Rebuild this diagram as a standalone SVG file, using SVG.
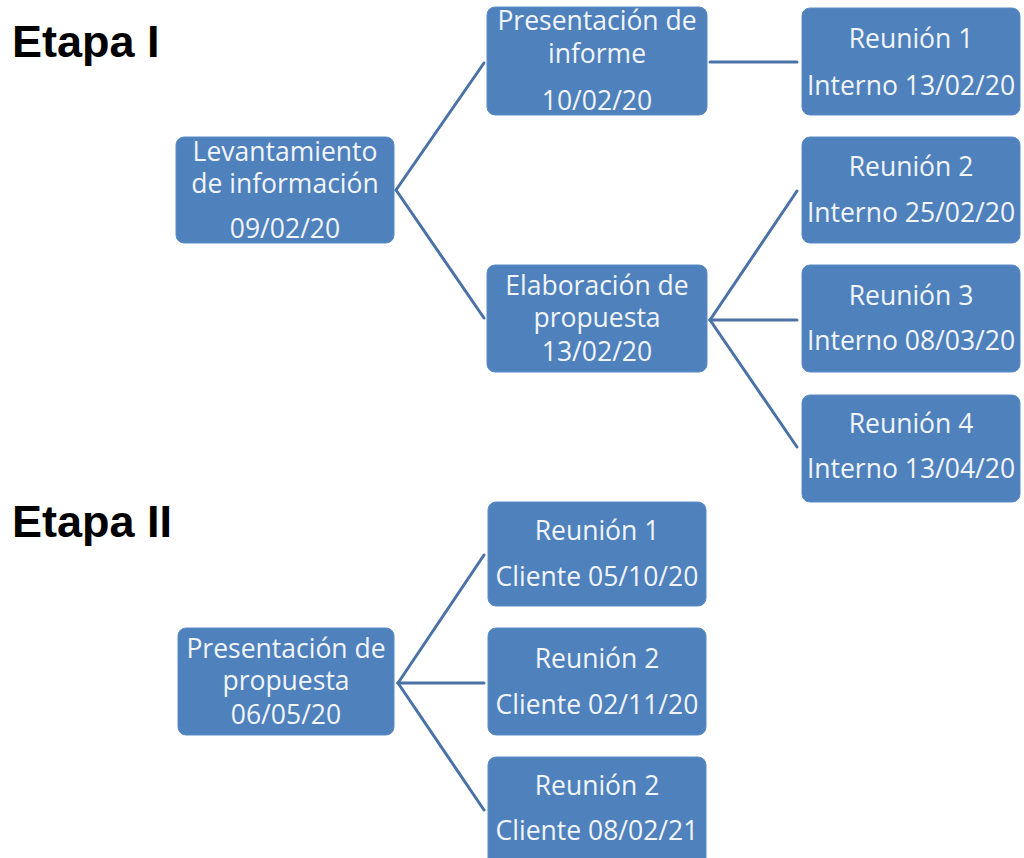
<svg xmlns="http://www.w3.org/2000/svg" width="1024" height="858" viewBox="0 0 1024 858">
<style>
.box{fill:#4F81BD;stroke:#5B8CC6;stroke-width:1}
.t{font-family:"Open Sans","Liberation Sans",Arial,sans-serif;font-size:26.5px;fill:#F2F5FA;text-anchor:middle}
.h{font-family:"Liberation Sans",Arial,sans-serif;font-size:45px;font-weight:bold;fill:#000}
.c line{stroke:#4A72A6;stroke-width:3;stroke-linecap:round}
</style>
<rect width="1024" height="858" fill="#fff"/>
<text class="h" x="12" y="57">Etapa I</text>
<text class="h" x="12" y="537">Etapa II</text>
<g class="c" id="connectors">
<line x1="396" y1="190" x2="484" y2="63"/>
<line x1="396" y1="190" x2="484" y2="318"/>
<line x1="710" y1="62" x2="797" y2="62"/>
<line x1="710" y1="320" x2="797" y2="191"/>
<line x1="710" y1="320" x2="797" y2="320"/>
<line x1="710" y1="320" x2="797" y2="447"/>
<line x1="398" y1="683" x2="484" y2="555"/>
<line x1="398" y1="683" x2="484" y2="683"/>
<line x1="398" y1="683" x2="484" y2="810"/>
</g>
<g id="levantamiento"><rect class="box" x="176" y="137" width="218" height="106" rx="8"/>
<text class="t" x="285" y="161">Levantamiento</text><text class="t" x="285" y="193">de información</text><text class="t" x="285" y="238">09/02/20</text></g>
<g id="pres-informe"><rect class="box" x="487" y="7" width="220" height="108" rx="8"/>
<text class="t" x="597" y="30">Presentación de</text><text class="t" x="597" y="63">informe</text><text class="t" x="597" y="110">10/02/20</text></g>
<g id="elaboracion"><rect class="box" x="487" y="265" width="220" height="107" rx="8"/>
<text class="t" x="597" y="295">Elaboración de</text><text class="t" x="597" y="327">propuesta</text><text class="t" x="597" y="361">13/02/20</text></g>
<g id="reunion1-int"><rect class="box" x="802" y="8" width="218" height="107" rx="8"/>
<text class="t" x="911" y="48">Reunión 1</text><text class="t" x="911" y="95">Interno 13/02/20</text></g>
<g id="reunion2-int"><rect class="box" x="802" y="137" width="218" height="106" rx="8"/>
<text class="t" x="911" y="176">Reunión 2</text><text class="t" x="911" y="222">Interno 25/02/20</text></g>
<g id="reunion3-int"><rect class="box" x="802" y="265" width="218" height="107" rx="8"/>
<text class="t" x="911" y="305">Reunión 3</text><text class="t" x="911" y="350">Interno 08/03/20</text></g>
<g id="reunion4-int"><rect class="box" x="802" y="395" width="218" height="107" rx="8"/>
<text class="t" x="911" y="433">Reunión 4</text><text class="t" x="911" y="478">Interno 13/04/20</text></g>
<g id="pres-propuesta"><rect class="box" x="178" y="628" width="216" height="107" rx="8"/>
<text class="t" x="286" y="658">Presentación de</text><text class="t" x="286" y="690">propuesta</text><text class="t" x="286" y="724">06/05/20</text></g>
<g id="reunion1-cli"><rect class="box" x="488" y="502" width="218" height="104" rx="8"/>
<text class="t" x="597" y="540">Reunión 1</text><text class="t" x="597" y="586">Cliente 05/10/20</text></g>
<g id="reunion2-cli"><rect class="box" x="488" y="628" width="218" height="107" rx="8"/>
<text class="t" x="597" y="668">Reunión 2</text><text class="t" x="597" y="714">Cliente 02/11/20</text></g>
<g id="reunion2b-cli"><rect class="box" x="488" y="757" width="218" height="110" rx="8"/>
<text class="t" x="597" y="795">Reunión 2</text><text class="t" x="597" y="840">Cliente 08/02/21</text></g>
</svg>
